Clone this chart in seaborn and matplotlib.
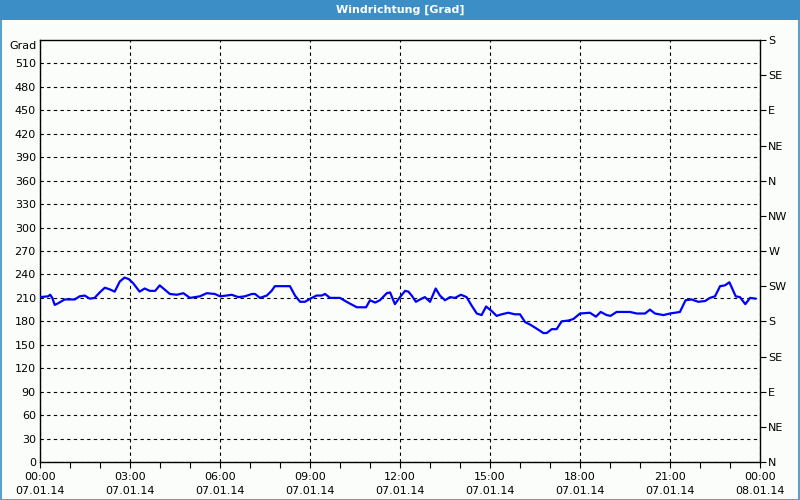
import matplotlib
matplotlib.use("Agg")
import matplotlib.pyplot as plt
import matplotlib.patches as mpatches
import seaborn as sns
import pandas as pd

# hours since 07.01.14 00:00
hours = [0.0, 0.27, 0.34, 0.41, 0.49, 0.6, 0.82, 1.16, 1.32, 1.49, 1.66, 1.82, 1.99,
         2.16, 2.32, 2.49, 2.66, 2.82, 2.96, 3.1, 3.32, 3.49, 3.66, 3.84, 3.99,
         4.33, 4.56, 4.78, 5.0, 5.33, 5.56, 5.83, 6.0, 6.22, 6.39, 6.61, 6.83,
         7.06, 7.17, 7.33, 7.56, 7.72, 7.83, 8.17, 8.33, 8.5, 8.67, 8.83, 9.06,
         9.22, 9.39, 9.5, 9.67, 10.0, 10.22, 10.56, 10.87, 11.0, 11.17, 11.33,
         11.56, 11.67, 11.83, 12.0, 12.17, 12.28, 12.39, 12.53, 12.67, 12.83,
         13.0, 13.19, 13.33, 13.5, 13.67, 13.83, 14.03, 14.22, 14.39, 14.56,
         14.72, 14.87, 15.06, 15.22, 15.39, 15.61, 15.83, 16.0, 16.17, 16.33,
         16.5, 16.78, 16.89, 17.06, 17.22, 17.39, 17.61, 17.78, 18.0, 18.33,
         18.53, 18.69, 18.89, 19.02, 19.22, 19.67, 19.89, 20.17, 20.33, 20.5,
         20.78, 21.0, 21.33, 21.52, 21.72, 21.94, 22.17, 22.33, 22.5, 22.67,
         22.83, 22.98, 23.19, 23.33, 23.51, 23.67, 23.86]
direction = [211, 212, 214, 210, 201, 203, 208, 208, 212, 213, 209, 210, 217,
             223, 221, 218, 231, 236, 234, 229, 218, 222, 219, 219, 226,
             215, 214, 216, 210, 212, 216, 215, 212, 213, 214, 211, 212,
             215, 215, 210, 213, 219, 225, 225, 225, 213, 205, 205, 210,
             213, 213, 215, 210, 210, 205, 198, 198, 207, 204, 207,
             216, 217, 202, 211, 219, 218, 213, 205, 208, 211,
             205, 222, 213, 207, 211, 210, 214, 211, 200, 190,
             188, 199, 193, 187, 189, 191, 189, 189, 179, 176,
             172, 165, 165, 170, 170, 180, 181, 183, 190, 191,
             186, 192, 188, 187, 192, 192, 190, 190, 195, 190,
             188, 190, 192, 207, 208, 205, 206, 210, 212, 225,
             226, 230, 212, 211, 202, 210, 209]

y_ticks = list(range(0, 511, 30))
compass_values = [0, 45, 90, 135, 180, 225, 270, 315, 360, 405, 450, 495, 540]
compass_labels = ["N", "NE", "E", "SE", "S", "SW", "W", "NW", "N", "NE", "E", "SE", "S"]
x_ticks = [0, 3, 6, 9, 12, 15, 18, 21, 24]
x_labels = ["00:00\n07.01.14", "03:00\n07.01.14", "06:00\n07.01.14", "09:00\n07.01.14",
            "12:00\n07.01.14", "15:00\n07.01.14", "18:00\n07.01.14", "21:00\n07.01.14",
            "00:00\n08.01.14"]

df = pd.DataFrame({"hour": hours, "deg": direction})

sns.set_theme(style="white")
plt.rcParams["font.family"] = ["DejaVu Sans"]

W, H = 800, 500
fig = plt.figure(figsize=(8, 5), dpi=100)
bg = "#fbfdfb"
fig.patch.set_facecolor(bg)
blue = "#3b8fc6"

# title bar and border
fig.patches.append(mpatches.Rectangle((0, 1 - 20 / H), 1, 20 / H, transform=fig.transFigure,
                                      facecolor=blue, edgecolor="none", zorder=0))
fig.patches.append(mpatches.Rectangle((0.5 / W, 0.5 / H), 1 - 1.5 / W, 1 - 1.5 / H,
                                      transform=fig.transFigure, facecolor="none",
                                      edgecolor=blue, linewidth=1.2, zorder=5))
fig.text(0.5, 1 - 10 / H, "Windrichtung [Grad]", color="white", fontsize=8,
         fontweight="bold", ha="center", va="center")

ax = fig.add_axes([40 / W, 1 - 462 / H, 720 / W, 422 / H])
ax.set_facecolor(bg)
sns.lineplot(data=df, x="hour", y="deg", ax=ax, color="#0000ff", linewidth=1.6, zorder=3)

ax.set_xlim(0, 24)
ax.set_ylim(0, 540)
ax.set_xticks(x_ticks)
ax.set_xticklabels(x_labels, fontsize=8, linespacing=1.55)
ax.set_xticks(range(0, 25), minor=True)
ax.set_yticks(y_ticks)
ax.set_yticklabels([str(v) for v in y_ticks], fontsize=8)
ax.set_xlabel("")
ax.set_ylabel("")
ax.tick_params(axis="x", which="both", direction="out", length=4, width=0.8, color="black",
               bottom=True, pad=3, labelcolor="black")
ax.tick_params(axis="y", direction="out", length=0, pad=3, labelcolor="black", left=True)
ax.grid(True, which="major", color="black", linestyle=(0, (3, 3)), linewidth=0.8)
for s in ax.spines.values():
    s.set_color("black")
    s.set_linewidth(1.0)

ax2 = ax.twinx()
ax2.set_ylim(0, 540)
ax2.set_yticks(compass_values)
ax2.set_yticklabels(compass_labels, fontsize=8)
ax2.tick_params(axis="y", direction="out", length=4, width=0.8, color="black", pad=2,
                labelcolor="black", right=True)
ax2.grid(False)
for s in ax2.spines.values():
    s.set_visible(False)

fig.text(37 / W, 1 - 46 / H, "Grad", fontsize=8, ha="right", va="center", color="black")

fig.savefig("out.png", dpi=100, facecolor=bg)
